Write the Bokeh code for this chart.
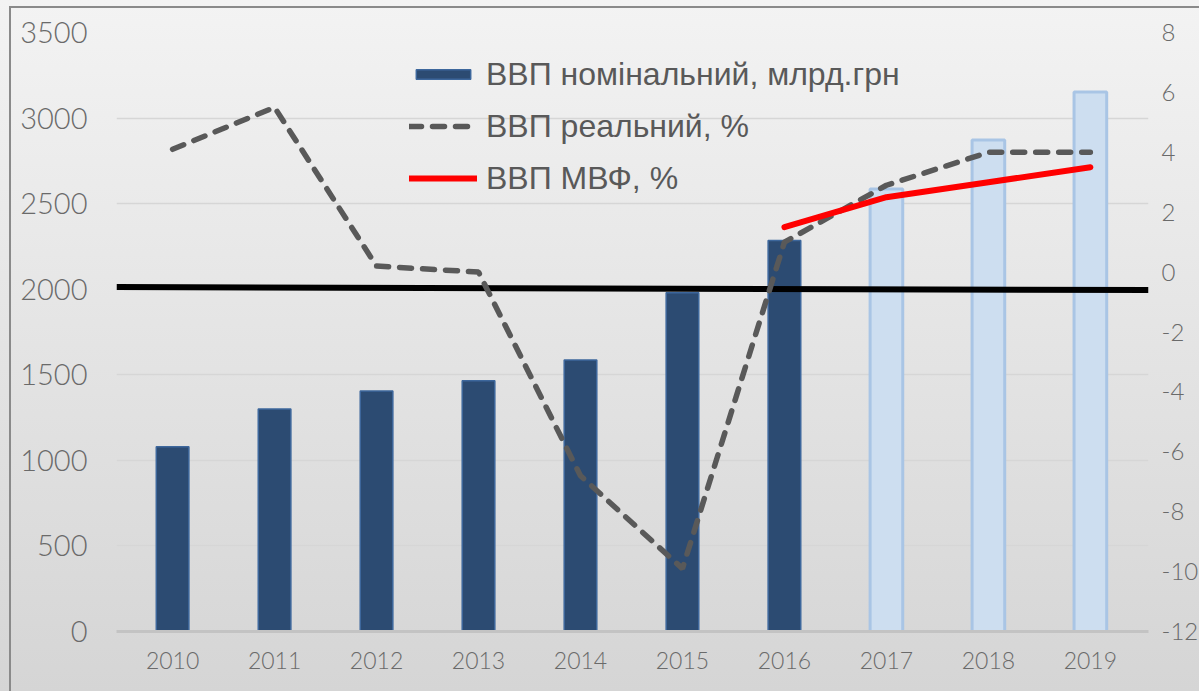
from bokeh.plotting import figure
from bokeh.models import LinearAxis, Range1d, FixedTicker, Legend, LegendItem, ColumnDataSource
from bokeh.layouts import column
from bokeh.embed import file_html
from bokeh.resources import INLINE

# ---- data ----
years = ["2010", "2011", "2012", "2013", "2014", "2015", "2016", "2017", "2018", "2019"]
actual_years = years[:7]
forecast_years = years[7:]
gdp_nominal_actual = [1079, 1300, 1405, 1465, 1587, 1979, 2285]     # млрд.грн
gdp_nominal_forecast = [2585, 2872, 3153]                           # млрд.грн
gdp_real = [4.1, 5.5, 0.2, 0.0, -6.8, -9.9, 1.0, 2.9, 4.0, 4.0]     # %
imf_years = ["2016", "2017", "2018", "2019"]
gdp_imf = [1.5, 2.5, 3.0, 3.5]                                      # %
baseline_level = [-0.5, -0.6]                                       # % (drawn reference line)

left_ticks = [0, 500, 1000, 1500, 2000, 2500, 3000, 3500]
right_ticks = [-12, -10, -8, -6, -4, -2, 0, 2, 4, 6, 8]
right_tick_labels = ["-12", "-10", "-8", "-6", "-4", "-2", "0", "2", "4", "6", "8"]

idx = {y: i for i, y in enumerate(years)}

src_actual = ColumnDataSource(dict(x=[idx[y] for y in actual_years], top=gdp_nominal_actual))
src_fc = ColumnDataSource(dict(x=[idx[y] for y in forecast_years], top=gdp_nominal_forecast))
src_real = ColumnDataSource(dict(x=[idx[y] for y in years], y=gdp_real))
src_imf = ColumnDataSource(dict(x=[idx[y] for y in imf_years], y=gdp_imf))
src_base = ColumnDataSource(dict(x=[-0.55, len(years) - 1 + 0.57], y=baseline_level))

TICK_COLOR = "#6a6a6a"
TICK_FONT = "Lato Light"

p = figure(width=1190, height=685, output_backend="svg", toolbar_location=None,
           x_range=Range1d(-0.55, len(years) - 1 + 0.57), y_range=Range1d(0, 3500),
           min_border_left=105, min_border_right=41, min_border_top=24, min_border_bottom=62)
p.margin = (6, 0, 0, 9)
p.styles = {"border-left": "2px solid #8a8a8a", "border-top": "2px solid #8a8a8a"}
p.background_fill_alpha = 0
p.border_fill_alpha = 0
p.outline_line_color = None

p.extra_y_ranges = {"pct": Range1d(-12, 8)}

# left axis
ax = p.yaxis[0]
ax.ticker = FixedTicker(ticks=left_ticks)
ax.axis_line_color = None
ax.major_tick_line_color = None
ax.minor_tick_line_color = None
ax.major_label_text_font = TICK_FONT
ax.major_label_text_font_size = "29px"
ax.major_label_text_color = TICK_COLOR
ax.major_label_standoff = 23

# right axis
rax = LinearAxis(y_range_name="pct", ticker=FixedTicker(ticks=right_ticks))
rax.major_label_overrides = dict(zip(right_ticks, right_tick_labels))
rax.axis_line_color = None
rax.major_tick_line_color = None
rax.minor_tick_line_color = None
rax.major_label_text_font = TICK_FONT
rax.major_label_text_font_size = "24px"
rax.major_label_text_color = TICK_COLOR
rax.major_label_standoff = 7
p.add_layout(rax, "right")

# x axis
xa = p.xaxis[0]
xa.ticker = FixedTicker(ticks=list(range(len(years))))
xa.major_label_overrides = {i: y for i, y in enumerate(years)}
xa.axis_line_color = "#c3c3c3"
xa.axis_line_width = 3
xa.major_tick_line_color = None
xa.minor_tick_line_color = None
xa.major_label_text_font = TICK_FONT
xa.major_label_text_font_size = "23px"
xa.major_label_text_color = TICK_COLOR
xa.major_label_standoff = 14

p.xgrid.grid_line_color = None
p.ygrid.ticker = FixedTicker(ticks=left_ticks)
p.ygrid.grid_line_color = "#d6d6d6"
p.ygrid.grid_line_width = 1.5

# bars
r_bar = p.vbar(x="x", top="top", width=0.32, source=src_actual,
               fill_color="#2c4b72", line_color="#3d679c", line_width=1.5)
p.vbar(x="x", top="top", width=0.32, source=src_fc,
       fill_color="#cddef0", line_color="#a9c5e5", line_width=3)

# baseline
p.line(x="x", y="y", source=src_base, y_range_name="pct", line_color="black", line_width=6)

# real GDP line
r_real = p.line(x="x", y="y", source=src_real, y_range_name="pct", line_color="#595959",
                line_width=5.5, line_dash="12 11", line_cap="round")
# IMF line
r_imf = p.line(x="x", y="y", source=src_imf, y_range_name="pct", line_color="#ff0000",
               line_width=6, line_cap="round")

legend = Legend(items=[
    LegendItem(label="ВВП номінальний, млрд.грн", renderers=[r_bar]),
    LegendItem(label="ВВП реальний, %", renderers=[r_real]),
    LegendItem(label="ВВП МВФ, %", renderers=[r_imf]),
], location=(293, 433))
legend.background_fill_alpha = 0
legend.border_line_color = None
legend.padding = 0
legend.margin = 0
legend.glyph_width = 68
legend.glyph_height = 12
legend.label_height = 40
legend.spacing = 12
legend.label_standoff = 9
legend.label_text_font = "Liberation Sans"
legend.label_text_font_size = "32px"
legend.label_text_color = "#595959"
p.add_layout(legend, "center")

layout = column(p, width=1199, height=691,
                styles={"background": "linear-gradient(to bottom, #f3f3f3, #d5d5d5)"})

open("out.html", "w").write(file_html(layout, INLINE))
